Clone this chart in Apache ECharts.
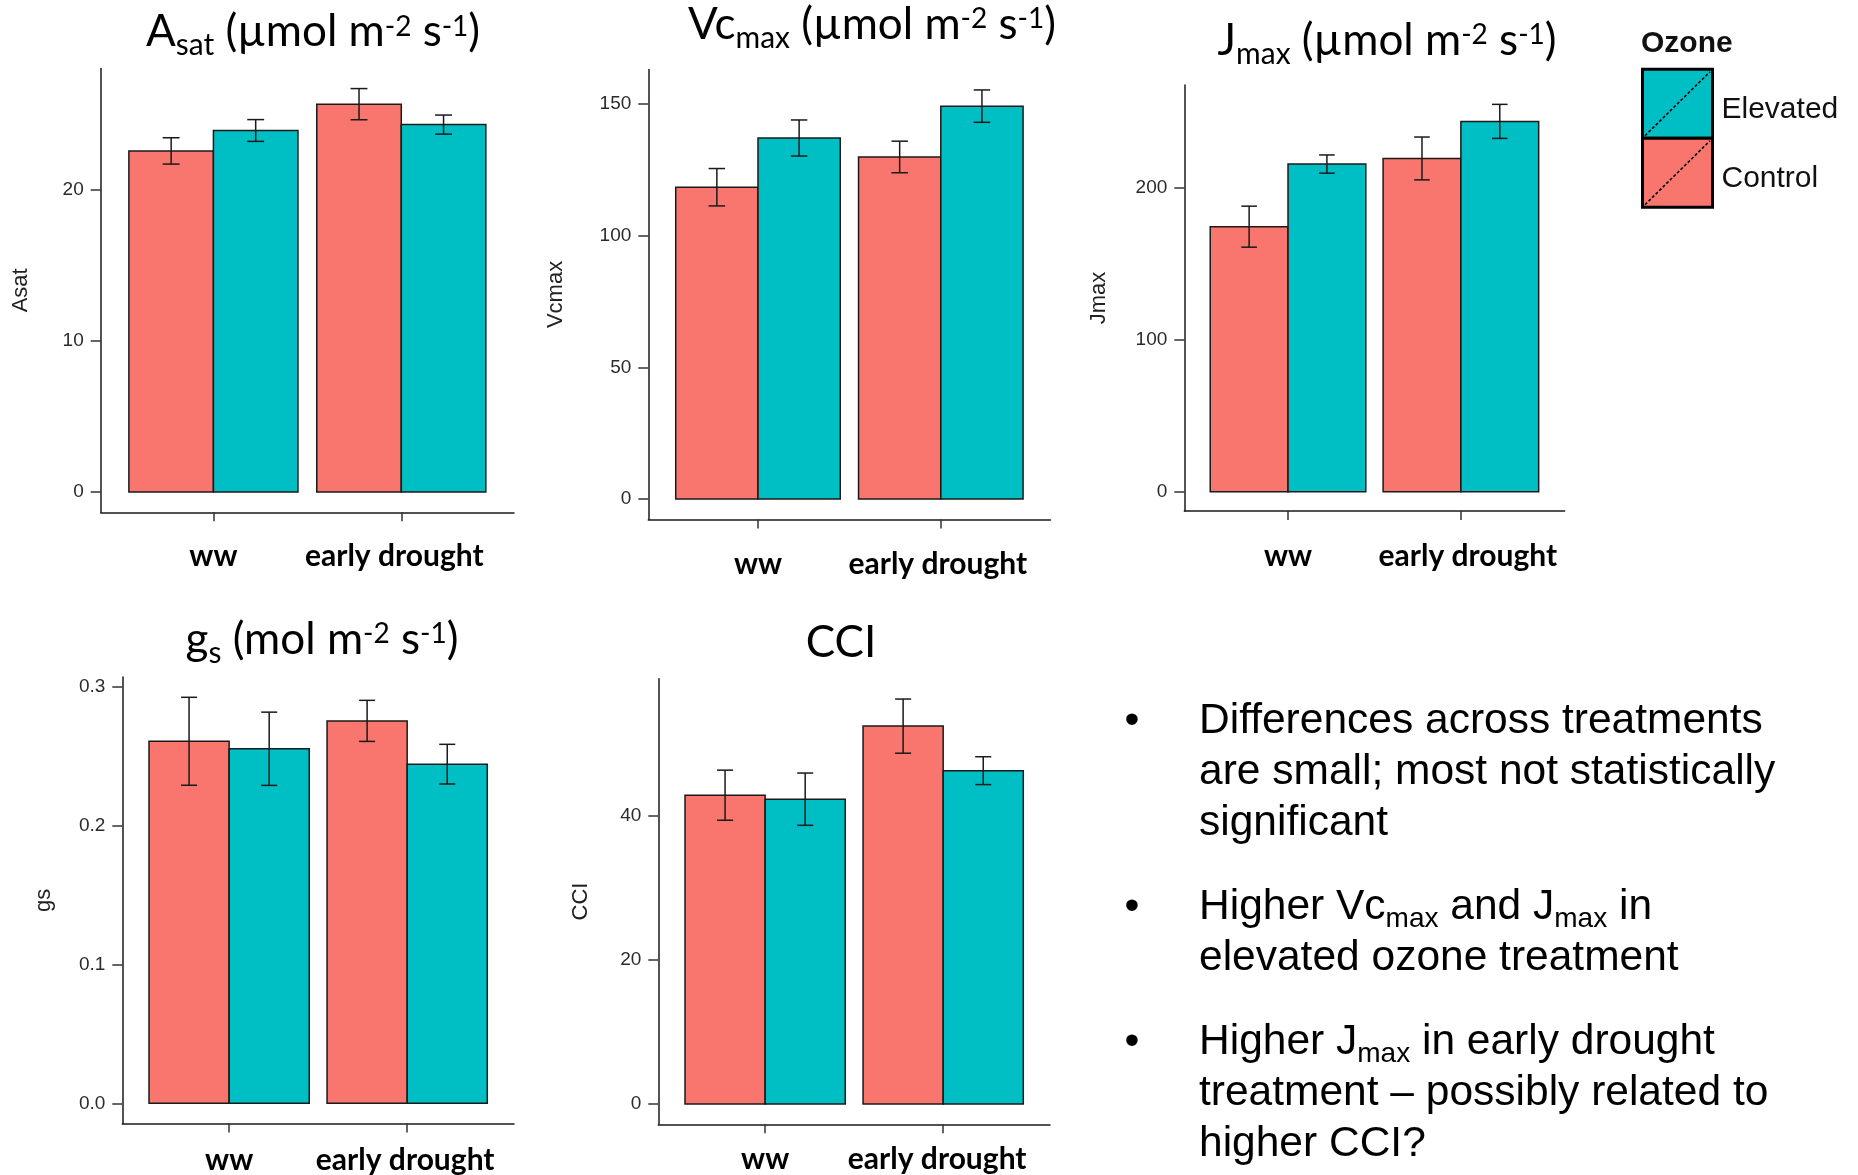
<!DOCTYPE html>
<html><head><meta charset="utf-8">
<script src="https://cdn.jsdelivr.net/npm/echarts@6/dist/echarts.min.js"></script>
<style>html,body{margin:0;padding:0;background:#fff}#c{width:1858px;height:1175px}</style>
</head><body><div id="c"></div>
<script>
// ---------------- data ----------------
const categories = ['ww', 'early drought'];
const ozoneLevels = ['Control', 'Elevated'];

const asatControl = [22.55, 25.64];
const asatControlSE = [0.87, 1.03];
const asatElevated = [23.90, 24.29];
const asatElevatedSE = [0.72, 0.63];

const vcmaxControl = [118.4, 129.9];
const vcmaxControlSE = [7.1, 6.0];
const vcmaxElevated = [137.1, 149.2];
const vcmaxElevatedSE = [6.85, 6.15];

const jmaxControl = [174.4, 219.3];
const jmaxControlSE = [13.5, 14.1];
const jmaxElevated = [215.6, 243.7];
const jmaxElevatedSE = [6.0, 11.2];

const gsControl = [0.261, 0.2757];
const gsControlSE = [0.0317, 0.0148];
const gsElevated = [0.2556, 0.2445];
const gsElevatedSE = [0.0264, 0.0143];

const cciControl = [42.78, 52.35];
const cciControlSE = [3.47, 3.75];
const cciElevated = [42.23, 46.18];
const cciElevatedSE = [3.62, 1.93];

const asatTicks = [0, 10, 20];
const vcmaxTicks = [0, 50, 100, 150];
const jmaxTicks = [0, 100, 200];
const gsTicks = [0, 0.1, 0.2, 0.3];
const cciTicks = [0, 20, 40];

const xTickPositions = [1, 2];

// ---------------- layout ----------------
const colors = {Control: '#F8766D', Elevated: '#00BFC4'};
const ink = '#1a1a1a';

const panels = [
  {yName: 'Asat', c: asatControl, cSE: asatControlSE, e: asatElevated, eSE: asatElevatedSE, ticks: asatTicks, dec: 0,
   grid: {left: 100.7, top: 68.4, width: 413.3, height: 443.9}, nameGap: 69, labelMargin: 29.5, labelShift: -7,
   title: '{m|A}{s|sat}{m| (µmol m}{p|-2}{m| s}{p|-1}{m|)}', titleX: 313, titleTop: 3.3},
  {yName: 'Vcmax', c: vcmaxControl, cSE: vcmaxControlSE, e: vcmaxElevated, eSE: vcmaxElevatedSE, ticks: vcmaxTicks, dec: 0,
   grid: {left: 648.3, top: 69.5, width: 402.2, height: 449.9}, nameGap: 81, labelMargin: 30, labelShift: -3,
   title: '{m|Vc}{s|max}{m| (µmol m}{p|-2}{m| s}{p|-1}{m|)}', titleX: 872, titleTop: -4.1},
  {yName: 'Jmax', c: jmaxControl, cSE: jmaxControlSE, e: jmaxElevated, eSE: jmaxElevatedSE, ticks: jmaxTicks, dec: 0,
   grid: {left: 1184.3, top: 85, width: 380.3, height: 426}, nameGap: 74, labelMargin: 30, labelShift: 7,
   title: '{m|J}{s|max}{m| (µmol m}{p|-2}{m| s}{p|-1}{m|)}', titleX: 1387, titleTop: 12},
  {yName: 'gs', c: gsControl, cSE: gsControlSE, e: gsElevated, eSE: gsElevatedSE, ticks: gsTicks, dec: 1,
   grid: {left: 122.3, top: 677, width: 391.7, height: 447}, nameGap: 67, labelMargin: 21.4, labelShift: -2,
   title: '{m|g}{s|s}{m| (mol m}{p|-2}{m| s}{p|-1}{m|)}', titleX: 322, titleTop: 611},
  {yName: 'CCI', c: cciControl, cSE: cciControlSE, e: cciElevated, eSE: cciElevatedSE, ticks: cciTicks, dec: 0,
   grid: {left: 658.3, top: 678.8, width: 391.7, height: 445.5}, nameGap: 66, labelMargin: 20, labelShift: -6,
   title: '{m|CCI}', titleX: 841, titleTop: 613.8}
];

const titleRich = {
  m: {fontSize: 44, fontFamily: 'Lato', fontWeight: 'normal', color: '#000', lineHeight: 58},
  s: {fontSize: 30, fontFamily: 'Lato', fontWeight: 'normal', color: '#000', lineHeight: 30, verticalAlign: 'top', padding: [27.4, 0, 0, 0]},
  p: {fontSize: 28, fontFamily: 'Lato', fontWeight: 'normal', color: '#000', lineHeight: 28, verticalAlign: 'top', padding: [9.2, 0, 0, 0]}
};

function makeRender(side) {
  return function (params, api) {
    const x = api.value(0), v = api.value(1), e = api.value(2);
    const c = x + side * 0.225;
    const tl = api.coord([c - 0.225, v]);
    const br = api.coord([c + 0.225, 0]);
    const et = api.coord([c, v + e]);
    const eb = api.coord([c, v - e]);
    const cl = api.coord([c - 0.045, v + e]);
    const cr = api.coord([c + 0.045, v + e]);
    const ls = {stroke: ink, lineWidth: 1.5};
    return {type: 'group', children: [
      {type: 'rect', shape: {x: tl[0], y: tl[1], width: br[0] - tl[0], height: br[1] - tl[1]},
       style: {fill: api.visual('color'), stroke: ink, lineWidth: 1.5}},
      {type: 'line', shape: {x1: et[0], y1: et[1], x2: eb[0], y2: eb[1]}, style: ls},
      {type: 'line', shape: {x1: cl[0], y1: et[1], x2: cr[0], y2: et[1]}, style: ls},
      {type: 'line', shape: {x1: cl[0], y1: eb[1], x2: cr[0], y2: eb[1]}, style: ls}
    ]};
  };
}

const xLabelFont = {fontSize: 30, fontWeight: 'bold', fontFamily: 'Lato', color: '#000'};

const grids = [], xAxes = [], yAxes = [], series = [], titles = [];
panels.forEach((p, i) => {
  grids.push(Object.assign({containLabel: false}, p.grid));
  const top = Math.max(...p.c.map((v, k) => v + p.cSE[k]), ...p.e.map((v, k) => v + p.eSE[k]));
  const sh = p.labelShift;
  xAxes.push({
    gridIndex: i, type: 'value', min: 0.4, max: 2.6,
    splitLine: {show: false},
    axisLine: {show: true, onZero: false, lineStyle: {color: ink, width: 1.5}},
    axisTick: {show: true, customValues: xTickPositions, length: 9, lineStyle: {color: '#333', width: 1.5}},
    axisLabel: Object.assign({show: true, customValues: xTickPositions, margin: p.labelMargin,
      formatter: v => {
        const k = Math.round(v) - 1;
        return k === 1 ? '{e|' + categories[k] + '}' : '{w|' + categories[k] + '}';
      },
      rich: {
        w: Object.assign({}, xLabelFont),
        e: Object.assign({padding: sh < 0 ? [0, -2 * sh, 0, 0] : [0, 0, 0, 2 * sh]}, xLabelFont)
      }}, xLabelFont)
  });
  yAxes.push({
    gridIndex: i, type: 'value', min: -0.05 * top, max: 1.05 * top,
    splitLine: {show: false},
    axisLine: {show: true, onZero: false, lineStyle: {color: ink, width: 1.5}},
    axisTick: {show: true, customValues: p.ticks, length: 10, lineStyle: {color: '#333', width: 1.5}},
    axisLabel: {show: true, customValues: p.ticks, margin: 17, formatter: v => Number(v).toFixed(p.dec),
      fontSize: 19, fontFamily: 'Liberation Sans', color: '#2b2b2b'},
    name: p.yName, nameLocation: 'middle', nameRotate: 90, nameGap: p.nameGap,
    nameTextStyle: {fontSize: 22, fontFamily: 'Liberation Sans', color: '#222'}
  });
  const sets = {Control: [p.c, p.cSE, -1], Elevated: [p.e, p.eSE, 1]};
  ozoneLevels.forEach(lvl => {
    const [vals, se, side] = sets[lvl];
    series.push({
      type: 'custom', name: lvl, xAxisIndex: i, yAxisIndex: i, clip: false,
      itemStyle: {color: colors[lvl]},
      encode: {x: 0, y: 1},
      data: categories.map((c, k) => [xTickPositions[k], vals[k], se[k]]),
      renderItem: makeRender(side)
    });
  });
  titles.push({text: p.title, left: p.titleX, top: p.titleTop, textAlign: 'center', padding: 0,
    textStyle: {fontWeight: 'normal', rich: titleRich}});
});

titles.push({text: 'Ozone', left: 1641, top: 28.3, padding: 0,
  textStyle: {fontSize: 30, fontWeight: 'bold', fontFamily: 'Liberation Sans', color: '#111'}});

const bulletRich = {
  t: {fontSize: 42.5, fontFamily: 'Liberation Sans', color: '#000', lineHeight: 51},
  s: {fontSize: 28, fontFamily: 'Liberation Sans', color: '#000', lineHeight: 28, verticalAlign: 'top', padding: [23, 0, 0, 0]}
};
const bulletParagraphs = [
  '{t|Differences across treatments}\n{t|are small; most not statistically}\n{t|significant}',
  '{t|Higher Vc}{s|max}{t| and J}{s|max}{t| in}\n{t|elevated ozone treatment}',
  '{t|Higher J}{s|max}{t| in early drought}\n{t|treatment – possibly related to}\n{t|higher CCI?}'
];
const bulletTops = [695.7, 881.8, 1016.9];
const graphics = [];
bulletParagraphs.forEach((txt, i) => {
  graphics.push({type: 'text', x: 1132, y: bulletTops[i],
    style: {text: '{t|•}', rich: bulletRich, align: 'center', verticalAlign: 'top'}});
  graphics.push({type: 'text', x: 1199, y: bulletTops[i],
    style: {text: txt, rich: bulletRich, align: 'left', verticalAlign: 'top'}});
});

// legend key diagonals (decoration of the legend keys)
const legendLeft = 1641, legendTop = 67.7, keyW = 70, keyH = 69, keyBorder = 3;
[0, 1].forEach(k => {
  const x0 = legendLeft + keyBorder / 2;
  const y0 = legendTop + keyBorder / 2 + k * keyH;
  graphics.push({type: 'line', z: 100,
    shape: {x1: x0 + 2.5, y1: y0 + keyH - 2.5, x2: x0 + keyW - 2.5, y2: y0 + 2.5},
    style: {stroke: '#000', lineWidth: 1.6, lineDash: [3, 2]}});
});

const chart = echarts.init(document.getElementById('c'), null, {renderer: 'canvas'});
chart.setOption({
  animation: false,
  backgroundColor: '#fff',
  title: titles,
  legend: {
    data: ['Elevated', 'Control'], orient: 'vertical', left: legendLeft, top: legendTop,
    itemWidth: keyW, itemHeight: keyH, itemGap: -keyBorder, padding: 0, selectedMode: false,
    icon: 'rect',
    itemStyle: {borderColor: '#000', borderWidth: keyBorder},
    formatter: name => '{l|' + name + '}',
    textStyle: {fontSize: 30, fontFamily: 'Liberation Sans', color: '#111',
      rich: {l: {fontSize: 30, fontFamily: 'Liberation Sans', color: '#111', lineHeight: 30, padding: [13, 0, 0, 4]}}}
  },
  grid: grids,
  xAxis: xAxes,
  yAxis: yAxes,
  series: series,
  graphic: graphics
});
</script>
</body></html>
